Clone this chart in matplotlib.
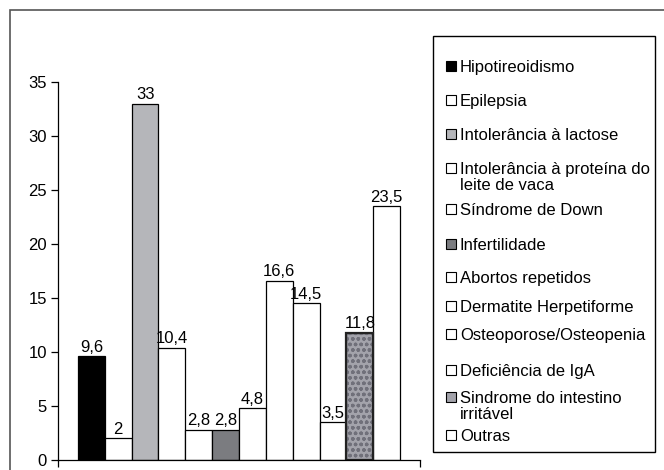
import matplotlib.pyplot as plt
from matplotlib.patches import Rectangle
import numpy as np

plt.rcParams['font.family'] = ['Liberation Sans', 'DejaVu Sans']

# data
categories = ['Hipotireoidismo', 'Epilepsia', 'Intolerância à lactose',
              'Intolerância à proteína do\nleite de vaca', 'Síndrome de Down',
              'Infertilidade', 'Abortos repetidos', 'Dermatite Herpetiforme',
              'Osteoporose/Osteopenia', 'Deficiência de IgA',
              'Sindrome do intestino\nirritável', 'Outras']
values = [9.6, 2, 33, 10.4, 2.8, 2.8, 4.8, 16.6, 14.5, 3.5, 11.8, 23.5]
value_labels = ['9,6', '2', '33', '10,4', '2,8', '2,8', '4,8', '16,6', '14,5', '3,5', '11,8', '23,5']
colors = ['#000000', 'white', '#b5b6ba', 'white', 'white', '#7b7c80',
          'white', 'white', 'white', 'white', '#a3a3ab', 'white']
y_ticks = [0, 5, 10, 15, 20, 25, 30, 35]

W, H = 664, 470
FS = 12
fig = plt.figure(figsize=(W / 100, H / 100), dpi=100)

# outer frame (cropped on right/bottom)
fig.patches.append(Rectangle((10 / W, -0.1), 1.2, 1 - 10 / H + 0.1,
                             transform=fig.transFigure, fill=False,
                             edgecolor='#555555', lw=1.2))

ax = fig.add_axes([58 / W, 1 - 460 / H, (420 - 58) / W, (460 - 82) / H])
x = np.arange(len(values))
bars = ax.bar(x, values, width=1, color=colors, edgecolor='black', linewidth=0.9)
# texture on irritable bowel bar
ax.bar(x[10], values[10], width=1, color='none', edgecolor='#70707a',
       hatch='ooo', linewidth=0)
ax.bar(x[10], values[10], width=1, color='none', edgecolor='#222222', linewidth=1.6)

for xi, v, lab in zip(x, values, value_labels):
    ax.text(xi, v + 0.15, lab, ha='center', va='bottom', fontsize=FS)

ax.set_ylim(0, 35)
ax.set_xlim(-1.245, 12.245)
ax.set_yticks(y_ticks)
ax.set_xticks([-1.245, 12.245])
ax.set_xticklabels([])
ax.tick_params(axis='y', labelsize=FS, length=5, width=0.9, pad=3)
ax.tick_params(axis='x', length=5, width=0.9, direction='out')
for s in ['top', 'right']:
    ax.spines[s].set_visible(False)
for s in ['left', 'bottom']:
    ax.spines[s].set_linewidth(0.9)

# legend box drawn by hand
fig.patches.append(Rectangle((433 / W, 1 - 452 / H), (655 - 433) / W, (452 - 36) / H,
                             transform=fig.transFigure, fill=False,
                             edgecolor='black', lw=1.0))
ys = [66, 100, 134, 168, 209, 244, 277, 306, 334, 370, 397, 435]
for y, lab, c in zip(ys, categories, colors):
    fig.patches.append(Rectangle((446 / W, 1 - (y + 5) / H), 10 / W, 10 / H,
                                 transform=fig.transFigure, facecolor=c,
                                 edgecolor='black', lw=0.8))
    fig.text(460 / W, 1 - (y - 6) / H, lab, ha='left', va='top', fontsize=FS,
             linespacing=1.1)

fig.savefig('out.png', dpi=100)
